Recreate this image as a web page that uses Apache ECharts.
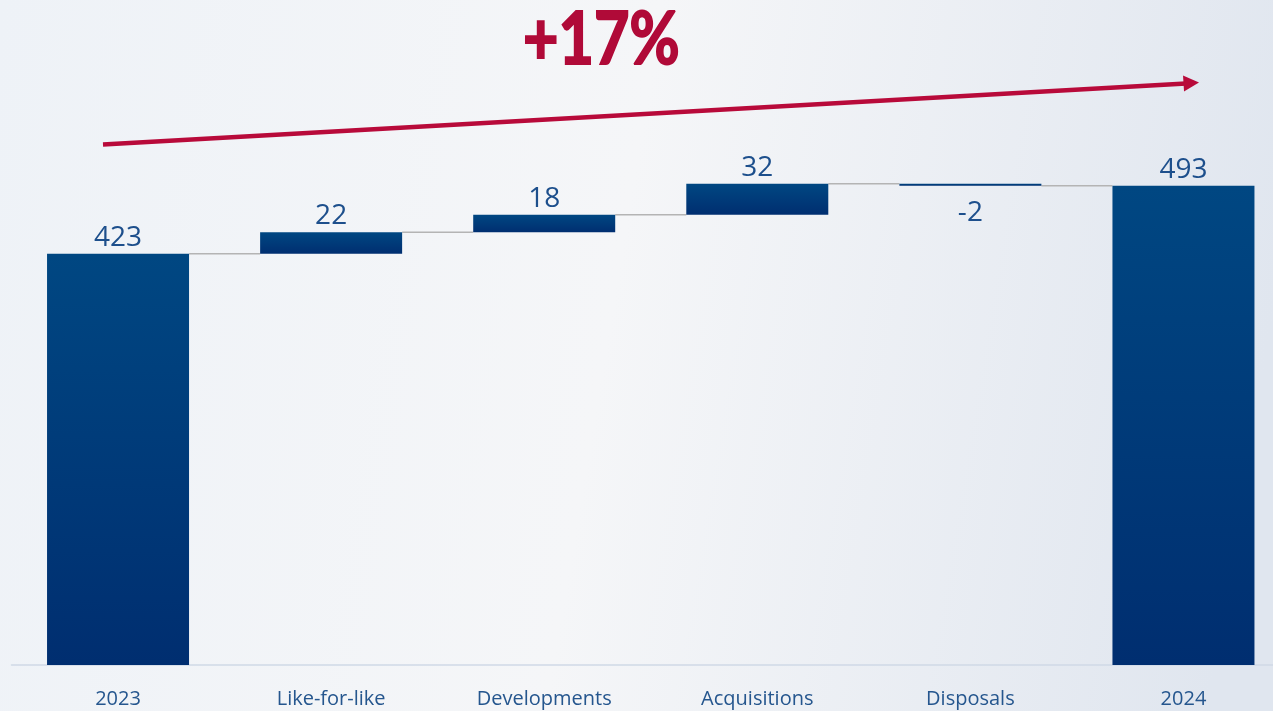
<!DOCTYPE html>
<html>
<head>
<meta charset="utf-8">
<script src="https://cdn.jsdelivr.net/npm/echarts@6/dist/echarts.min.js"></script>
<style>
  html, body { margin: 0; padding: 0; overflow: hidden; width: 1273px; height: 711px; }
  #chart { width: 1290px; height: 711px; }
</style>
</head>
<body>
<div id="chart"></div>
<script>
// Bridge from 2023 to 2024
const categories = ['2023', 'Like-for-like', 'Developments', 'Acquisitions', 'Disposals', '2024'];
const startValue = 423;
const changes = [22, 18, 32, -2];
const endValue = 493;
const growthText = '+17%';

// Build waterfall pieces: invisible base + visible step
const baseData = [];
const stepData = [];
const labelData = [];
const levels = []; // running total after each column
baseData.push(0);
stepData.push(startValue);
labelData.push(String(startValue));
levels.push(startValue);
let running = startValue;
changes.forEach(function (c) {
  const next = running + c;
  baseData.push(Math.min(running, next));
  stepData.push(Math.abs(c));
  labelData.push(String(c));
  running = next;
  levels.push(running);
});
baseData.push(0);
stepData.push(endValue);
labelData.push(String(endValue));
levels.push(endValue);

const barColor = {
  type: 'linear', x: 0, y: 0, x2: 0, y2: 1,
  colorStops: [{ offset: 0, color: '#004782' }, { offset: 1, color: '#002e70' }]
};
const fontFamily = '"Open Sans", "Noto Sans", sans-serif';
const barRatio = 142 / 213;

const chart = echarts.init(document.getElementById('chart'));
chart.setOption({
  animation: false,
  backgroundColor: {
    type: 'linear', x: 0, y: 0, x2: 1, y2: 0.3,
    colorStops: [
      { offset: 0, color: '#eef2f7' },
      { offset: 0.5, color: '#f5f6f8' },
      { offset: 1, color: '#e0e6ef' }
    ]
  },
  grid: { left: 11.5, right: 0, top: 0, bottom: 46 },
  xAxis: {
    type: 'category',
    data: categories,
    axisTick: { show: false },
    axisLine: { lineStyle: { color: '#cfd9e6', width: 1.5 } },
    axisLabel: { color: '#25568e', fontSize: 20, fontFamily: fontFamily, margin: 24 }
  },
  yAxis: { type: 'value', min: 0, max: 684, show: false, splitLine: { show: false } },
  graphic: [
    {
      type: 'text', x: 523, y: 5, scaleX: 0.85,
      style: {
        text: growthText, fill: '#b00a38', stroke: '#b00a38', lineWidth: 2,
        font: 'bold 72px Lato, ' + fontFamily
      }
    },
    {
      type: 'line',
      shape: { x1: 103, y1: 144.5, x2: 1186, y2: 83.5 },
      style: { stroke: '#b80a3a', lineWidth: 4.5 }
    },
    {
      type: 'polygon',
      shape: { points: [[1183, 75.5], [1199, 82.5], [1184, 91.5]] },
      style: { fill: '#b80a3a' }
    }
  ],
  series: [
    {
      type: 'bar', stack: 'w', data: baseData, barWidth: 142,
      itemStyle: { color: 'transparent' }, silent: true
    },
    {
      type: 'bar', stack: 'w', barWidth: 142,
      data: stepData.map(function (v, i) {
        const neg = i > 0 && i < categories.length - 1 && changes[i - 1] < 0;
        return {
          value: v,
          label: {
            show: true,
            position: neg ? 'bottom' : 'top',
            distance: neg ? 13 : 2,
            formatter: labelData[i]
          }
        };
      }),
      itemStyle: { color: barColor },
      label: { color: '#1d4f8c', fontSize: 28, fontFamily: fontFamily }
    },
    {
      // connector lines between adjacent columns
      type: 'custom',
      silent: true,
      data: levels.slice(0, -1).map(function (lv, i) { return [i, lv]; }),
      renderItem: function (params, api) {
        const i = api.value(0);
        const lv = api.value(1);
        const p0 = api.coord([i, lv]);
        const p1 = api.coord([i + 1, lv]);
        const half = api.size([1, 0])[0] * barRatio / 2;
        return {
          type: 'line',
          shape: { x1: p0[0] + half, y1: p0[1], x2: p1[0] - half, y2: p1[1] },
          style: { stroke: '#b4b4b4', lineWidth: 1.5 }
        };
      },
      z: 1
    }
  ]
});
</script>
</body>
</html>
